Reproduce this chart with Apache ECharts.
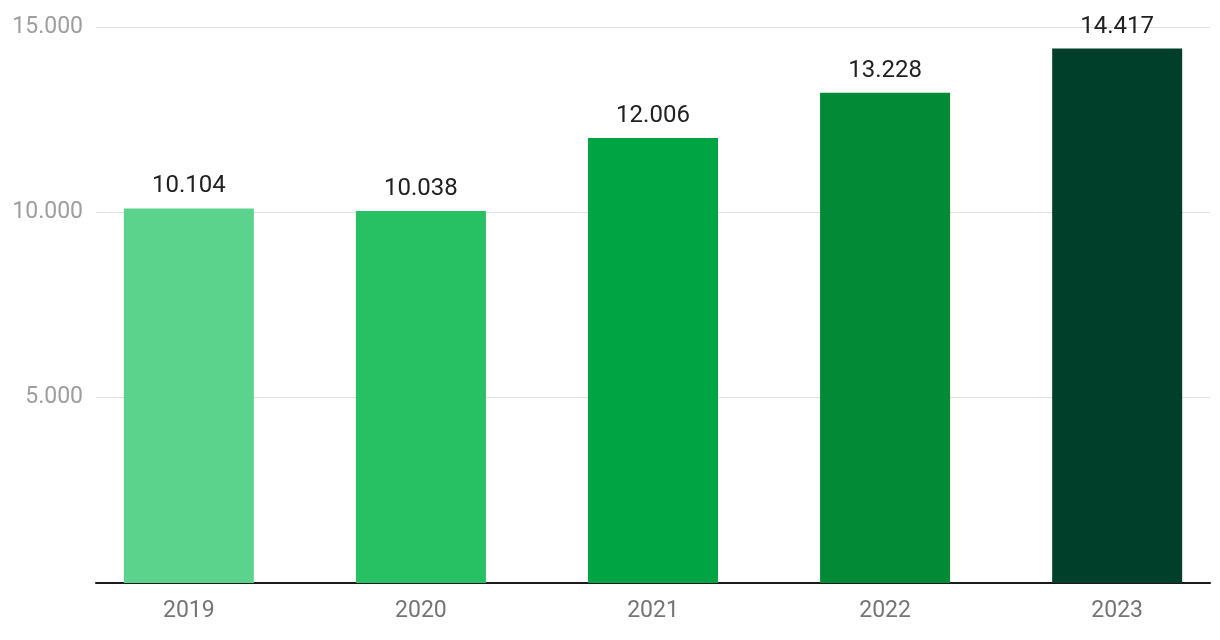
<!DOCTYPE html>
<html><head><meta charset="utf-8">
<script src="https://cdn.jsdelivr.net/npm/echarts@6/dist/echarts.min.js"></script>
<style>html,body{margin:0;padding:0;background:#fff}#c{width:1220px;height:640px}</style>
</head><body><div id="c"></div>
<script>
const categories = ['2019', '2020', '2021', '2022', '2023'];
const values = [10104, 10038, 12006, 13228, 14417];
const barColors = ['#5cd38c', '#27c062', '#00a443', '#028a37', '#003f2a'];
const yTicks = [0, 5000, 10000, 15000];

function fmt(v) {
  return String(Math.round(v)).replace(/\B(?=(\d{3})+(?!\d))/g, '.');
}

const chart = echarts.init(document.getElementById('c'), null, {renderer: 'canvas'});
chart.setOption({
  animation: false,
  textStyle: {fontFamily: 'Roboto'},
  grid: {left: 96, right: 10, top: 27, bottom: 57, containLabel: false},
  xAxis: {
    type: 'value',
    min: -0.4, max: 4.4,
    splitLine: {show: false},
    axisTick: {show: false},
    axisLine: {show: true, onZero: false, lineStyle: {color: '#1a1a1a', width: 2}},
    axisLabel: {
      customValues: categories.map((c, i) => i),
      formatter: v => categories[Math.round(v)] || '',
      color: '#757575', fontSize: 23, margin: 17, fontFamily: 'Roboto'
    }
  },
  yAxis: {
    type: 'value',
    min: yTicks[0], max: yTicks[yTicks.length - 1], interval: 5000,
    axisLine: {show: false},
    axisTick: {show: false},
    splitLine: {lineStyle: {color: '#e0e0e0', width: 1}},
    axisLabel: {
      formatter: v => v === 0 ? '' : fmt(v),
      color: '#9e9e9e', fontSize: 23, margin: 13, fontFamily: 'Roboto'
    }
  },
  series: [{
    type: 'bar',
    barWidth: 130,
    data: values.map((v, i) => ({value: [i, v], itemStyle: {color: barColors[i]}})),
    label: {
      show: true, position: 'top', distance: 10,
      formatter: p => fmt(p.value[1]),
      color: '#212121', fontSize: 24, fontFamily: 'Roboto'
    }
  }]
});
</script></body></html>
